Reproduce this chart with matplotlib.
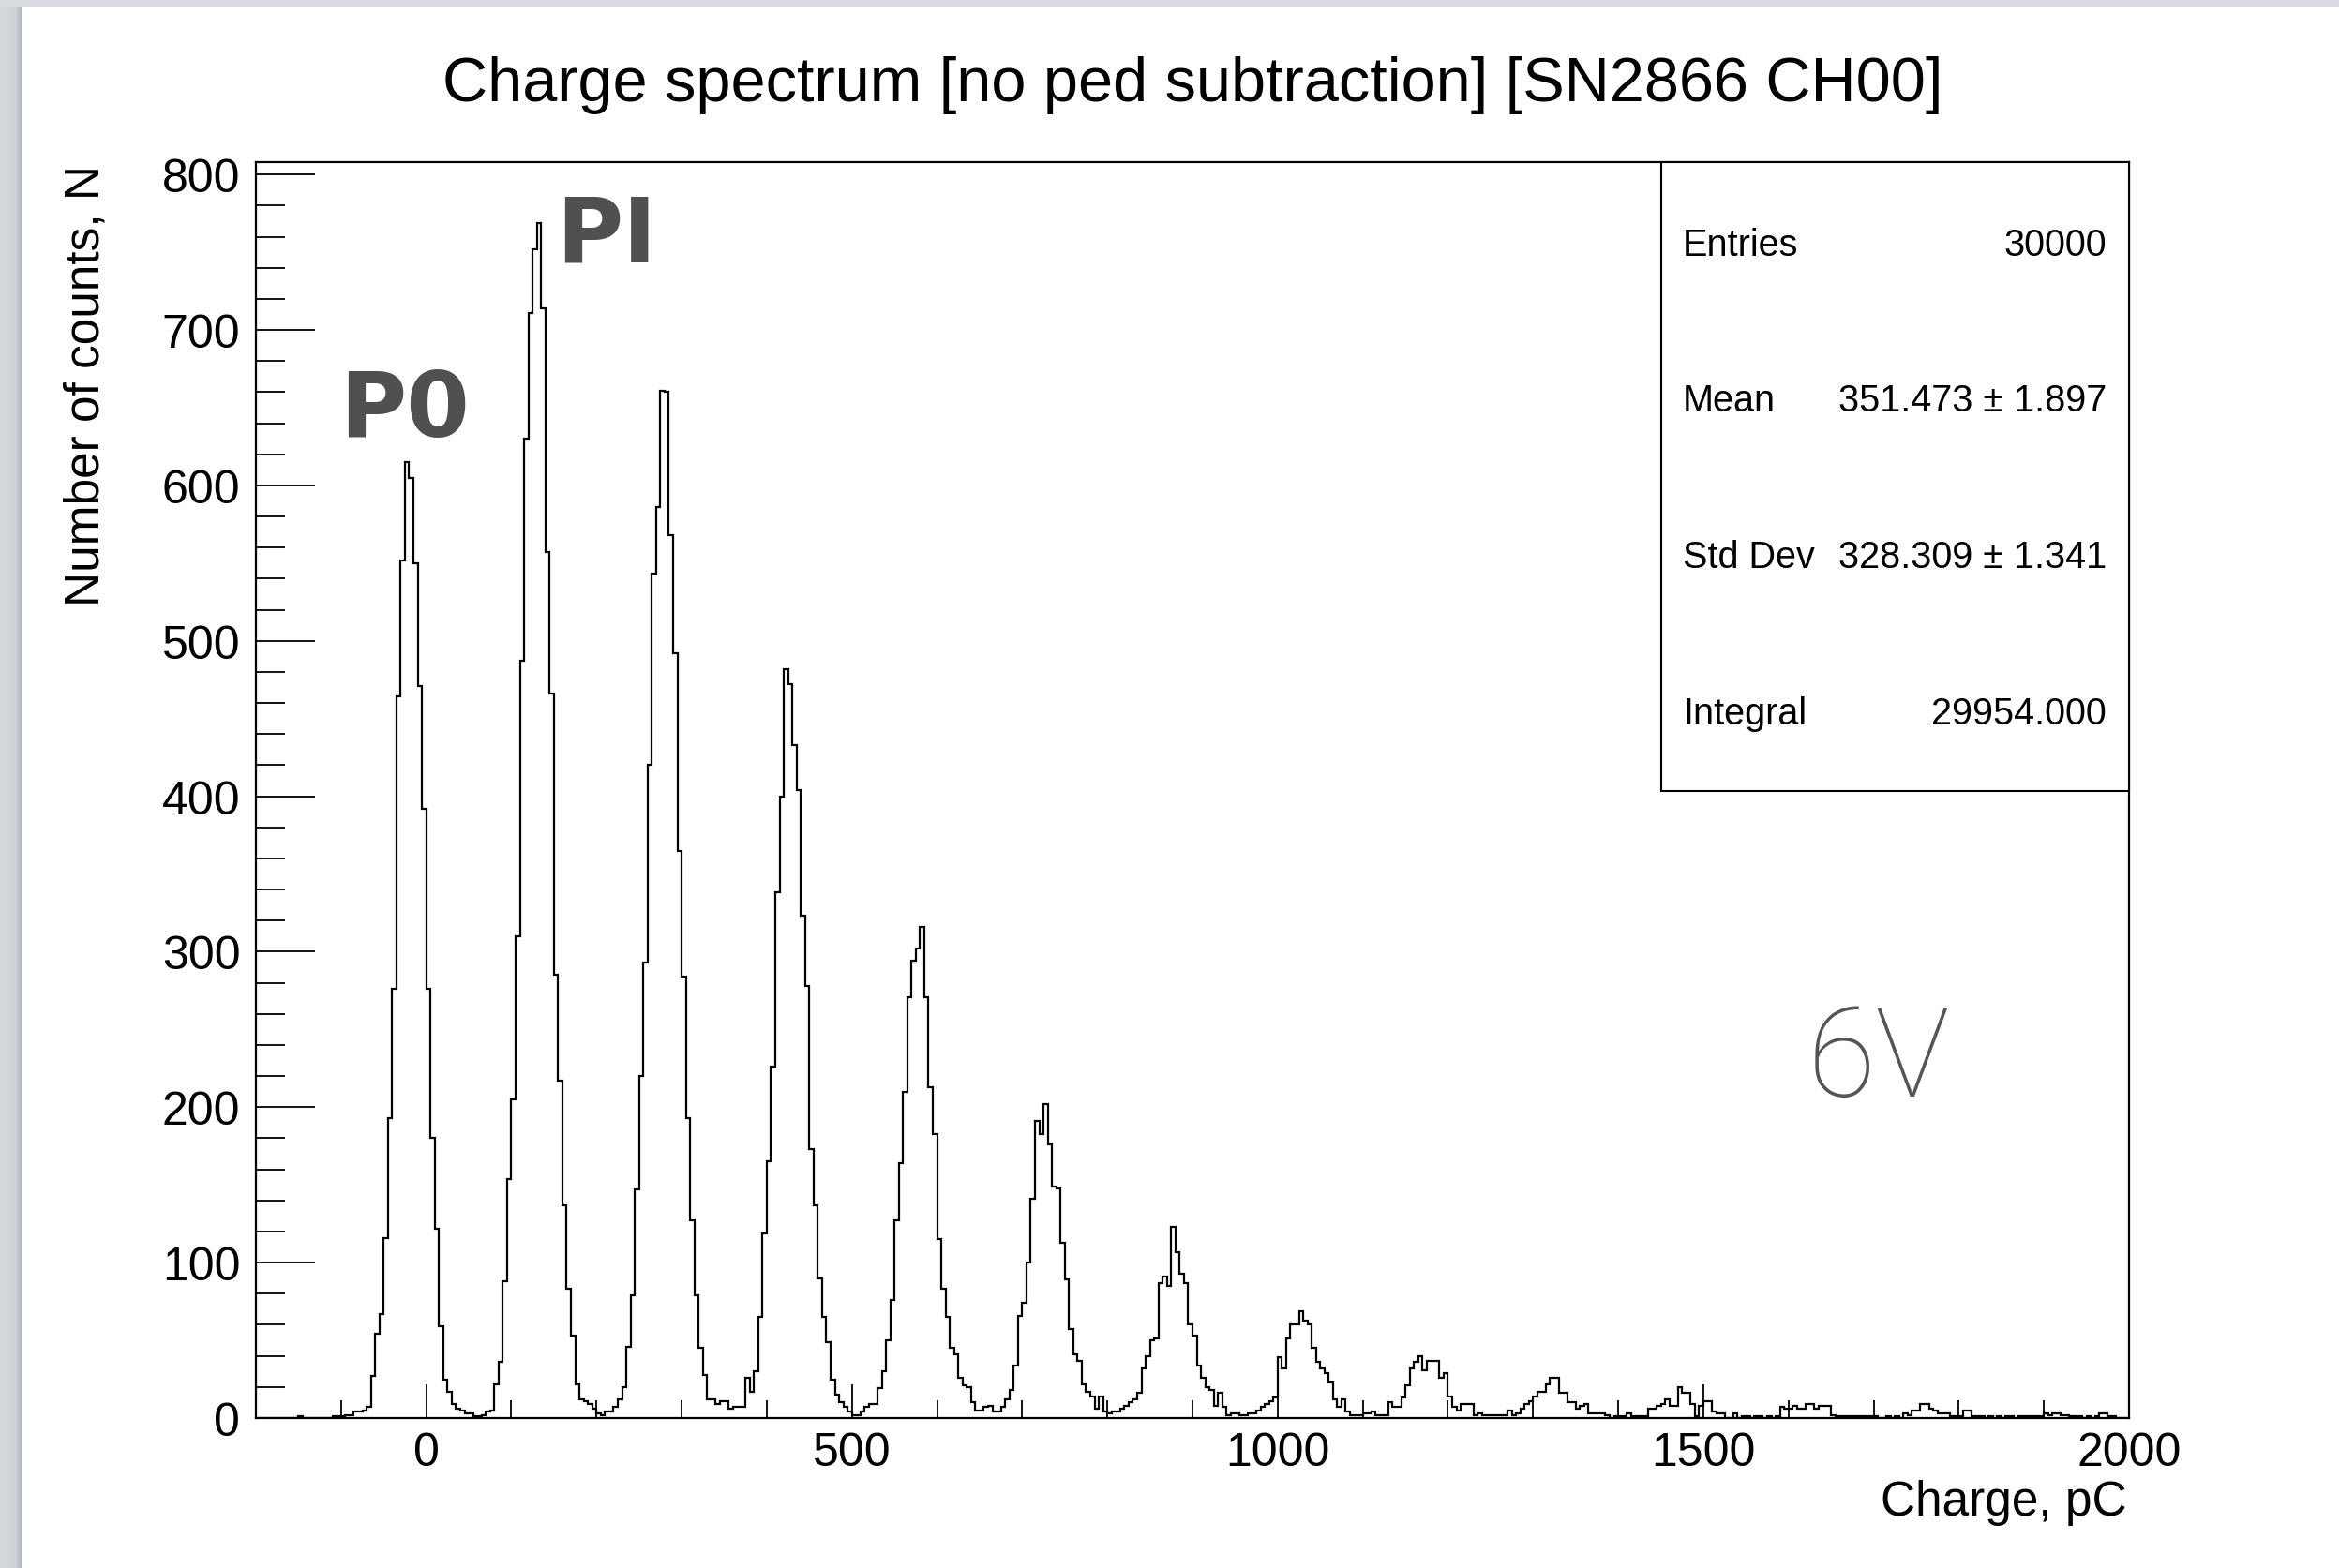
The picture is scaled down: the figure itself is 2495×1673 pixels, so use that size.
import numpy as np
import matplotlib.pyplot as plt
from matplotlib.patches import Rectangle
from matplotlib.ticker import MultipleLocator
from matplotlib.colors import LinearSegmentedColormap

plt.rcParams['font.family'] = ['Liberation Sans', 'DejaVu Sans']

W, H = 2495, 1674

# charge histogram, 5 pC bins from -200 to 2000 (counts)
x_lo = -200
bin_w = 5
counts = [
    0, 0, 0, 0, 0, 0, 0, 0, 0, 0,                        # -200
    1, 0, 0, 0, 0, 0, 0, 0, 1, 1,                        # -150
    1, 2, 2, 4, 4, 5, 7, 27, 54, 67,                     # -100
    116, 193, 276, 464, 552, 615, 605, 550, 471, 392,    # -50
    276, 180, 122, 59, 25, 17, 9, 6, 5, 3,               # 0
    3, 1, 1, 2, 4, 5, 22, 36, 88, 154,                   # 50
    205, 310, 487, 630, 711, 752, 769, 714, 557, 466,    # 100
    285, 217, 137, 83, 53, 22, 12, 11, 9, 6,             # 150
    3, 2, 4, 4, 7, 12, 20, 46, 79, 147,                  # 200
    220, 293, 420, 543, 586, 661, 660, 568, 492, 365,    # 250
    284, 193, 127, 79, 45, 28, 12, 12, 9, 11,            # 300
    11, 6, 7, 7, 7, 26, 17, 30, 65, 119,                 # 350
    165, 226, 338, 400, 482, 472, 433, 404, 323, 278,    # 400
    173, 137, 90, 65, 49, 25, 15, 10, 7, 4,              # 450
    2, 2, 4, 7, 9, 9, 19, 30, 50, 76,                    # 500
    127, 164, 210, 271, 294, 302, 316, 271, 213, 183,    # 550
    115, 83, 65, 45, 41, 26, 21, 20, 10, 5,              # 600
    5, 7, 8, 4, 4, 7, 12, 18, 34, 66,                    # 650
    74, 100, 141, 191, 183, 202, 176, 149, 148, 113,     # 700
    89, 57, 41, 37, 22, 17, 14, 6, 14, 4,                # 750
    3, 4, 4, 6, 8, 10, 12, 16, 32, 40,                   # 800
    50, 51, 87, 91, 85, 123, 107, 93, 87, 60,            # 850
    53, 34, 26, 20, 18, 8, 16, 7, 2, 3,                  # 900
    3, 2, 2, 3, 3, 5, 7, 9, 11, 13,                      # 950
    39, 32, 51, 60, 60, 69, 63, 60, 45, 36,              # 1000
    32, 29, 23, 12, 7, 12, 4, 2, 2, 2,                   # 1050
    3, 3, 4, 2, 2, 2, 10, 7, 7, 13,                      # 1100
    21, 32, 36, 40, 31, 37, 37, 37, 26, 29,              # 1150
    14, 7, 5, 9, 9, 9, 2, 3, 2, 2,                       # 1200
    2, 2, 2, 2, 5, 2, 3, 6, 9, 11,                       # 1250
    14, 17, 17, 22, 26, 26, 16, 16, 10, 10,              # 1300
    6, 8, 9, 3, 3, 3, 3, 2, 0, 1,                        # 1350
    1, 1, 3, 1, 1, 1, 1, 6, 6, 8,                        # 1400
    9, 12, 8, 8, 20, 16, 16, 9, 1, 8,                    # 1450
    11, 11, 4, 3, 3, 0, 0, 3, 0, 1,                      # 1500
    1, 0, 1, 1, 0, 1, 0, 1, 7, 6,                        # 1550
    6, 8, 6, 6, 9, 9, 6, 8, 8, 8,                        # 1600
    2, 1, 1, 1, 1, 1, 1, 1, 1, 1,                        # 1650
    1, 0, 0, 1, 0, 1, 0, 3, 2, 5,                        # 1700
    5, 9, 9, 6, 5, 3, 3, 3, 1, 1,                        # 1750
    1, 5, 5, 1, 1, 1, 0, 1, 0, 1,                        # 1800
    0, 1, 1, 0, 1, 1, 1, 1, 1, 1,                        # 1850
    3, 2, 3, 3, 2, 2, 1, 1, 1, 0,                        # 1900
    1, 0, 1, 3, 3, 1, 1, 0, 0, 0,                        # 1950
]
edges = x_lo + bin_w * np.arange(len(counts) + 1)

title = "Charge spectrum [no ped subtraction] [SN2866 CH00]"
stat_names = ["Entries", "Mean", "Std Dev", "Integral"]
stat_values = ["30000", "351.473 \u00b1 1.897", "328.309 \u00b1 1.341", "29954.000"]

fig = plt.figure(figsize=(W / 100, H / 100), dpi=100, facecolor='#d8dce0')

# slide panel + soft shadow on its left edge
fig.patches.append(Rectangle((24 / W, 0), 1, 1 - 9 / H, transform=fig.transFigure,
                             facecolor='white', edgecolor='none', zorder=0))
sh = fig.add_axes([0, 0, 24 / W, 1 - 9 / H], zorder=1)
shade = LinearSegmentedColormap.from_list('shade', ['#d6dade', '#cdd1d5', '#aeb2b6'])
sh.imshow(np.linspace(0, 1, 60)[None, :] ** 2, aspect='auto', cmap=shade,
          extent=(0, 1, 0, 1))
sh.set_axis_off()

ax = fig.add_axes([273 / W, 1 - 1514 / H, (2271 - 273) / W, (1514 - 174) / H], zorder=2)
ax.stairs(counts, edges, color='black', lw=1.6, baseline=0)
ax.set_xlim(-200, 2000)
ax.set_ylim(0, 808)

ax.xaxis.set_major_locator(MultipleLocator(500))
ax.xaxis.set_minor_locator(MultipleLocator(100))
ax.yaxis.set_major_locator(MultipleLocator(100))
ax.yaxis.set_minor_locator(MultipleLocator(20))
ax.tick_params(which='both', direction='in', top=False, right=False, width=1.3, labelsize=36)
ax.tick_params(axis='x', which='major', length=26, pad=10)
ax.tick_params(axis='x', which='minor', length=14)
ax.tick_params(axis='y', which='major', length=45, pad=12)
ax.tick_params(axis='y', which='minor', length=22)
for s in ax.spines.values():
    s.set_linewidth(1.6)

fig.text(1272 / W, 1 - 91 / H, title, ha='center', va='center', fontsize=48)
fig.text(92 / W, 1 - 176 / H, 'Number of counts, N', rotation=90, ha='center', va='top', fontsize=37)
fig.text(2269 / W, 1 - 1604 / H, 'Charge, pC', ha='right', va='center', fontsize=37)

# stats box
bx0 = (1772 - 273) / 1998
by0 = (1514 - 845) / 1340
ax.add_patch(Rectangle((bx0, by0), 1 - bx0, 1 - by0, transform=ax.transAxes,
                       facecolor='white', edgecolor='black', lw=1.5, zorder=5, clip_on=False))
row_y = [262, 428, 595, 762]
for name, val, yy in zip(stat_names, stat_values, row_y):
    yf = (1514 - yy) / 1340
    ax.text((1795 - 273) / 1998, yf, name, transform=ax.transAxes, ha='left', va='center',
            fontsize=28.5, zorder=6)
    ax.text((2247 - 273) / 1998, yf, val, transform=ax.transAxes, ha='right', va='center',
            fontsize=28.5, zorder=6)

# slide annotations
fig.text(362 / W, 1 - 466 / H, 'P0', family='DejaVu Sans', fontweight='bold',
         fontsize=70, color='#505050', va='baseline', ha='left', zorder=10)
fig.text(593 / W, 1 - 279 / H, 'PI', family='DejaVu Sans', fontweight='bold',
         fontsize=70, color='#505050', va='baseline', ha='left', zorder=10)
fig.text(1928 / W, 1 - 1170 / H, '6V', family=['Roboto', 'DejaVu Sans'], fontweight='light',
         fontsize=96, color='#555555', va='baseline', ha='left', zorder=10)

fig.savefig('out.png', dpi=100, facecolor=fig.get_facecolor())
